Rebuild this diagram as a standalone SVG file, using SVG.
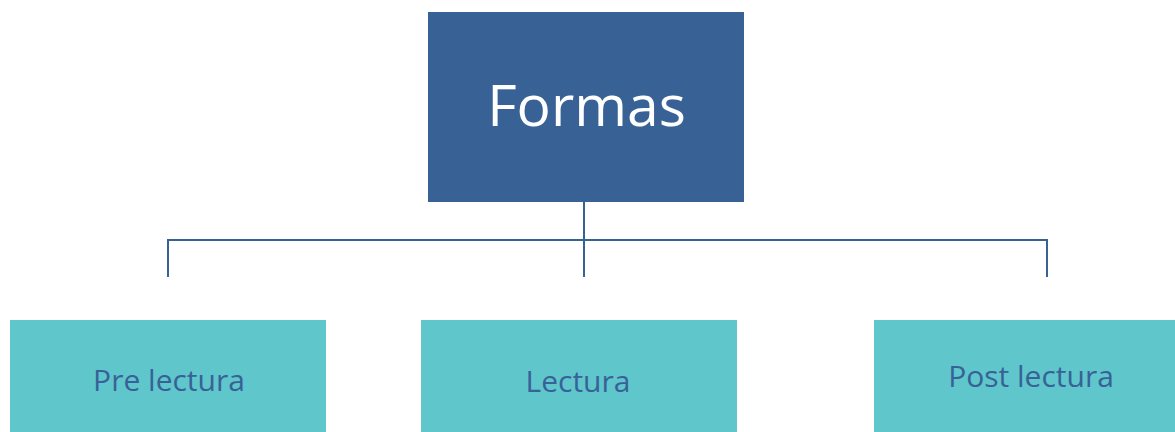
<svg xmlns="http://www.w3.org/2000/svg" width="1175" height="432" viewBox="0 0 1175 432">
<style>
.top{fill:#386296}
.sub{fill:#5fc6cc}
.t1{font-family:"Open Sans","Liberation Sans",sans-serif;font-size:57px;fill:#ffffff}
.t2{font-family:"Open Sans","Liberation Sans",sans-serif;font-size:30px;fill:#386296}
.ln{stroke:#386296;stroke-width:2;fill:none}
</style>
<rect width="1175" height="432" fill="#ffffff"/>
<g id="connectors">
<path class="ln" d="M584 201 V277 M168 277 V240 H1047 V277"/>
</g>
<g id="node-formas">
<rect class="top" x="428" y="12" width="316" height="190"/>
<text class="t1" x="586.5" y="126" text-anchor="middle">Formas</text>
</g>
<g id="node-pre">
<rect class="sub" x="10" y="320" width="316" height="112"/>
<text class="t2" x="169" y="391" text-anchor="middle">Pre lectura</text>
</g>
<g id="node-lectura">
<rect class="sub" x="421" y="320" width="316" height="112"/>
<text class="t2" x="578" y="392" text-anchor="middle">Lectura</text>
</g>
<g id="node-post">
<rect class="sub" x="874" y="320" width="301" height="112"/>
<text class="t2" x="1031" y="387" text-anchor="middle">Post lectura</text>
</g>
</svg>
